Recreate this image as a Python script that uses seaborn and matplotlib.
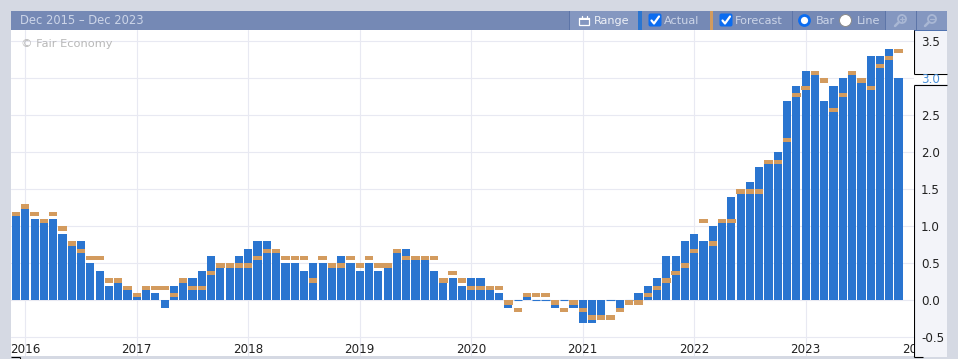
import numpy as np
import pandas as pd
import seaborn as sns
import matplotlib.pyplot as plt
from matplotlib.patches import Rectangle, FancyBboxPatch, Circle

W, H = 958, 359

months = pd.date_range("2015-12-01", periods=96, freq="MS").strftime("%Y-%m").tolist()

actual = [1.2, 1.3, 1.1, 1.1, 1.1, 0.9, 0.8, 0.8, 0.5, 0.4, 0.2, 0.3,
          0.2, 0.1, 0.2, 0.1, -0.1, 0.2, 0.3, 0.3, 0.4, 0.6, 0.5, 0.5,
          0.6, 0.7, 0.8, 0.8, 0.7, 0.5, 0.5, 0.4, 0.5, 0.5, 0.5, 0.6,
          0.5, 0.4, 0.5, 0.4, 0.5, 0.7, 0.7, 0.6, 0.6, 0.4, 0.3, 0.3,
          0.2, 0.3, 0.3, 0.2, 0.1, -0.1, 0.0, 0.1, 0.0, 0.0, -0.1, 0.0,
          -0.1, -0.3, -0.3, -0.2, 0.0, -0.1, 0.0, 0.1, 0.2, 0.3, 0.6, 0.6,
          0.8, 0.9, 0.8, 1.0, 1.1, 1.4, 1.5, 1.6, 1.8, 1.9, 2.0, 2.7,
          2.9, 3.1, 3.1, 2.7, 2.9, 3.0, 3.1, 3.0, 3.3, 3.3, 3.4, 3.0]

forecast = [1.2, 1.3, 1.2, 1.1, 1.2, 1.0, 0.8, 0.7, 0.6, 0.6, 0.3, 0.3,
            0.2, 0.1, 0.2, 0.2, 0.2, 0.1, 0.3, 0.2, 0.2, 0.4, 0.5, 0.5,
            0.5, 0.5, 0.6, 0.7, 0.7, 0.6, 0.6, 0.6, 0.3, 0.6, 0.5, 0.5,
            0.6, 0.5, 0.6, 0.5, 0.5, 0.7, 0.6, 0.6, 0.6, 0.6, 0.3, 0.4,
            0.3, 0.2, 0.2, 0.2, 0.2, 0.0, -0.1, 0.1, 0.1, 0.1, 0.0, -0.1,
            0.0, -0.1, -0.2, -0.2, -0.2, -0.1, 0.0, 0.0, 0.1, 0.2, 0.3, 0.4,
            0.5, 0.7, 1.1, 0.8, 1.1, 1.1, 1.5, 1.5, 1.5, 1.9, 1.9, 2.2,
            2.8, 2.9, 3.1, 3.0, 2.6, 2.8, 3.1, 3.0, 2.9, 3.2, 3.3, 3.4]

years = ["2016", "2017", "2018", "2019", "2020", "2021", "2022", "2023", "2024"]
year_pos = [1, 13, 25, 37, 49, 61, 73, 85, 97]
y_ticks = [-0.5, 0.0, 0.5, 1.0, 1.5, 2.0, 2.5, 3.0, 3.5]

BAR = "#2a75d0"
ORANGE = "#d39b5e"
GRID = "#e8e9f2"
FRAME = "#d5d9e3"
BAND = "#7589b5"
LIGHT = "#8497c0"
TXT = "#ccd5e8"

sns.set_theme(style="white")
plt.rcParams["font.family"] = ["DejaVu Sans"]

fig = plt.figure(figsize=(W / 100, H / 100), dpi=100, facecolor=FRAME)

# page chrome, in pixel coordinates
bg = fig.add_axes([0, 0, 1, 1], zorder=0)
bg.set_xlim(0, W)
bg.set_ylim(H, 0)
bg.axis("off")


def box(x0, y0, x1, y1, color, **kw):
    bg.add_patch(Rectangle((x0, y0), x1 - x0, y1 - y0, fc=color, ec="none", **kw))


box(914, 30, 947, 357, "#f3f4f9")
box(914, 73, 947, 84, "white")
box(11, 11, 947, 30, BAND)
box(11, 30, 947, 31, "#4f72b0")
box(570, 11, 638, 30, LIGHT)
box(638, 11, 642, 30, BAR)
box(710, 11, 713, 30, ORANGE)
box(886, 11, 916, 30, LIGHT)
box(917, 11, 947, 30, LIGHT)
for sx in [569, 792, 885, 916]:
    box(sx, 11, sx + 1, 30, "#5d75a8")

for cx in [649, 720]:
    bg.add_patch(FancyBboxPatch((cx + 1, 15), 10, 10, boxstyle="round,pad=1.5,rounding_size=2",
                                fc="#0b6cf0", ec="none"))
    bg.plot([cx + 2.5, cx + 5, cx + 10], [20.5, 23.5, 16.5], color="white", lw=1.6)

bg.add_patch(Circle((804.5, 20.5), 5, fc="white", ec="#0b6cf0", lw=2))
bg.add_patch(Circle((845.5, 20.5), 6, fc="white", ec="#8a8a8a", lw=0.7))

# calendar icon
bg.add_patch(Rectangle((579.5, 18), 10, 7, fc="none", ec="white", lw=0.9))
box(579, 18, 590, 20, "white")
bg.plot([582, 582], [16, 18], color="white", lw=0.9)
bg.plot([587, 587], [16, 18], color="white", lw=0.9)

# zoom icons
for mx, c in [(902, "#a9b7d4"), (932, "#a9b7d4")]:
    bg.add_patch(Circle((mx, 19), 4, fc="none", ec=c, lw=1.3))
    bg.plot([mx - 3, mx - 7], [22, 26], color=c, lw=1.8)
    bg.plot([mx - 2, mx + 2], [19, 19], color=c, lw=0.9)
bg.plot([902, 902], [17, 21], color="#a9b7d4", lw=0.9)

bg.text(20, 20.5, "Dec 2015 – Dec 2023", color=TXT, fontsize=8.3, va="center")
bg.text(594, 20.5, "Range", color="#eef1f7", fontsize=8.1, va="center")
bg.text(664, 20.5, "Actual", color=TXT, fontsize=8.1, va="center")
bg.text(735, 20.5, "Forecast", color=TXT, fontsize=8.1, va="center")
bg.text(816, 20.5, "Bar", color=TXT, fontsize=8.1, va="center")
bg.text(857, 20.5, "Line", color=TXT, fontsize=8.1, va="center")

# price-axis outline
for xs, ys in [([914.5, 914.5], [30, 73.5]), ([914.5, 947], [73.5, 73.5]),
               ([914.5, 947], [84.5, 84.5]), ([914.5, 914.5], [84.5, 356.5]),
               ([914.5, 923], [356.5, 356.5]), ([11, 20.5], [356.5, 356.5]),
               ([20.5, 20.5], [356.5, 359])]:
    bg.plot(xs, ys, color="black", lw=0.8, solid_capstyle="butt")

# the chart itself
ax = fig.add_axes([11 / W, 1 - 356 / H, 903 / W, 326 / H], zorder=1)
ax.set_facecolor("white")

marker_h = 0.057
sns.barplot(x=months, y=actual, color=BAR, saturation=1, width=0.88, linewidth=0, ax=ax, zorder=2)
sns.barplot(x=months, y=[marker_h] * len(months), bottom=np.array(forecast) - marker_h,
            color=ORANGE, saturation=1, width=0.9, linewidth=0, ax=ax, zorder=3)

# months at exactly zero still show as a hairline
zero_pos = [i for i, v in enumerate(actual) if v == 0]
ax.hlines([0] * len(zero_pos), np.array(zero_pos) - 0.44, np.array(zero_pos) + 0.44,
          color=BAR, lw=0.8, zorder=2)

ax.set_xlim(-0.54, 96.66)
ax.set_ylim(-0.75, 3.655)
ax.set_xticks(year_pos[:-1])
ax.set_xticklabels([])
ax.set_yticks(y_ticks)
ax.set_yticklabels([f"{t:.1f}" for t in y_ticks], fontsize=8.6, color="#222222", ha="left")
ax.yaxis.tick_right()
ax.tick_params(axis="y", length=0, pad=5)
ax.tick_params(axis="x", length=0)
ax.get_yticklabels()[y_ticks.index(3.0)].set_color("#4a90d9")
ax.grid(True, color=GRID, lw=0.8)
ax.set_axisbelow(True)
ax.set_xlabel("")
ax.set_ylabel("")
sns.despine(ax=ax, left=True, bottom=True, right=True, top=True)

for pos, label in zip(year_pos, years):
    ax.text(pos, -0.665, label, ha="center", va="center", fontsize=8.6, color="#222222",
            clip_on=True)

ax.text(10 / 903, 1 - 14 / 326, "© Fair Economy", transform=ax.transAxes, fontsize=8.2,
        color="#b8b8b8", va="center")

fig.savefig("out.png", dpi=100, facecolor=FRAME)
